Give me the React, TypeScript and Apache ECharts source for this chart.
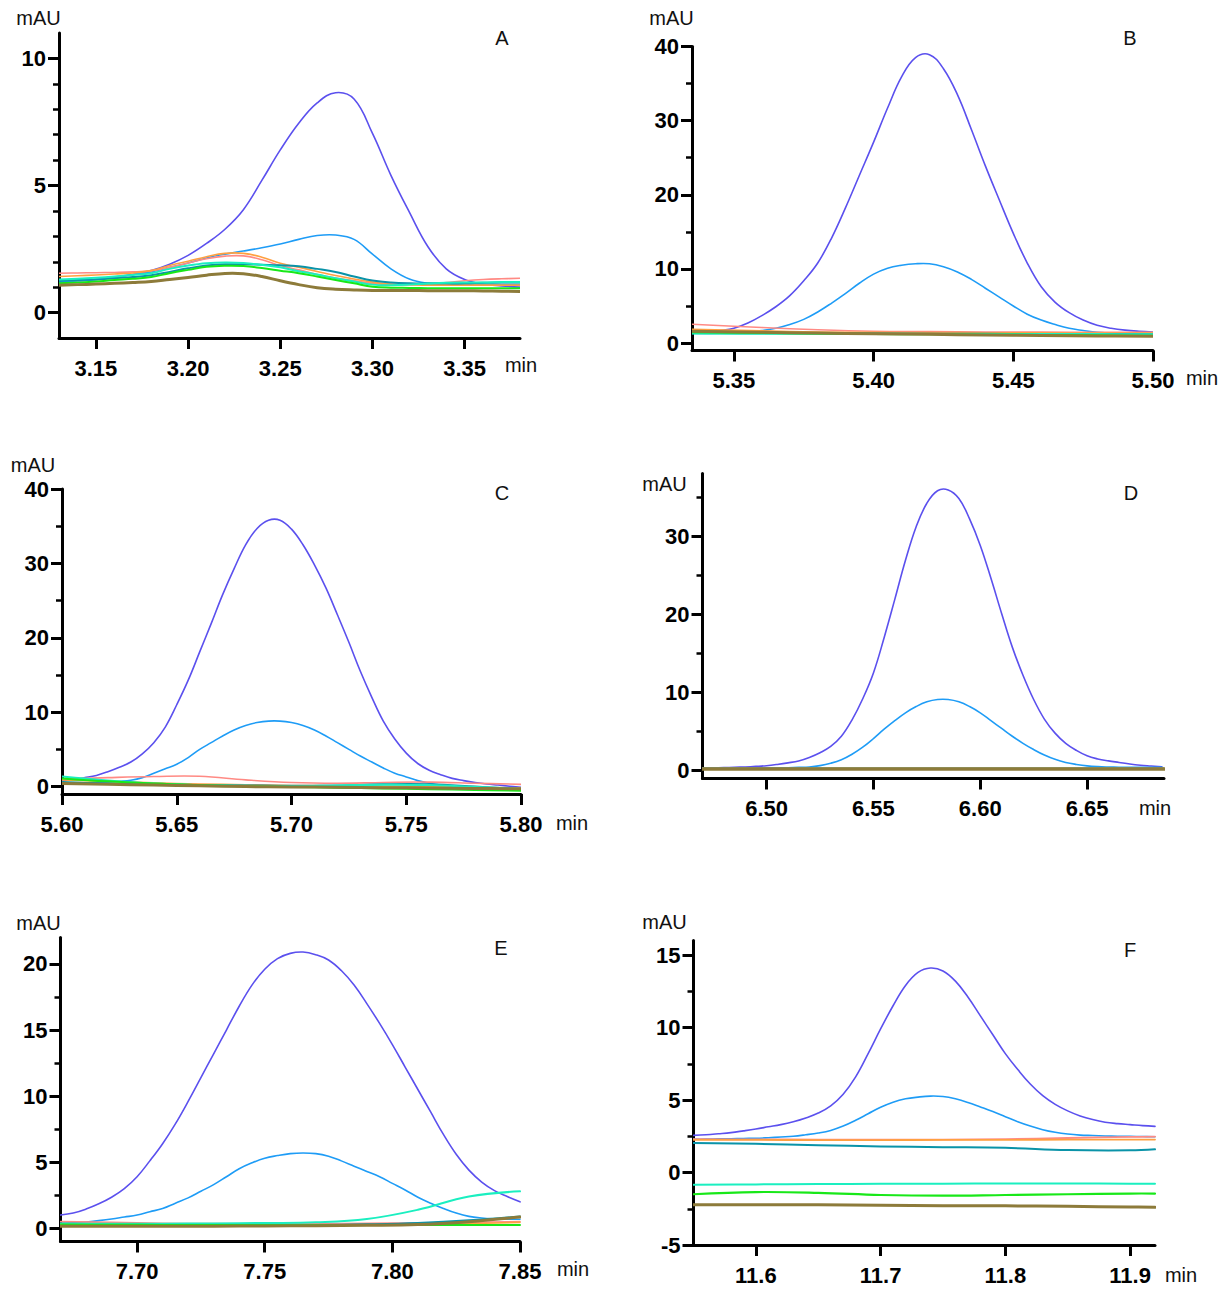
import React, { useEffect, useRef } from "react";
import * as echarts from "echarts";

const FONT = '"Liberation Sans", Arial, Helvetica, sans-serif';

const PURPLE = "#5b50ee";
const BLUE = "#1e9cf6";
const SALMON = "#ff8a84";
const ORANGE = "#ffa040";
const TEAL = "#0a93a8";
const AQUA = "#1aefc0";
const GREEN = "#18e818";
const OLIVE = "#8d7b3a";

// ---------- Panel A ----------
const tA = [3.13, 3.14, 3.15, 3.16, 3.17, 3.18, 3.19, 3.2, 3.21, 3.22, 3.23, 3.24, 3.25, 3.26, 3.27, 3.28, 3.29, 3.3, 3.31, 3.32, 3.33, 3.34, 3.35, 3.36, 3.37, 3.38];
const aPurple = [1.2, 1.25, 1.3, 1.38, 1.5, 1.65, 1.9, 2.25, 2.72, 3.28, 4.05, 5.2, 6.4, 7.45, 8.25, 8.65, 8.4, 7.05, 5.4, 3.95, 2.6, 1.72, 1.3, 1.12, 1.05, 1.0];
const aBlue = [1.2, 1.25, 1.3, 1.4, 1.5, 1.6, 1.78, 1.95, 2.15, 2.3, 2.42, 2.55, 2.7, 2.88, 3.03, 3.05, 2.88, 2.3, 1.72, 1.32, 1.15, 1.1, 1.1, 1.1, 1.1, 1.1];
const aSalmon = [1.55, 1.56, 1.57, 1.58, 1.6, 1.65, 1.78, 1.95, 2.12, 2.22, 2.23, 2.08, 1.85, 1.68, 1.5, 1.36, 1.25, 1.15, 1.1, 1.1, 1.12, 1.18, 1.25, 1.3, 1.33, 1.35];
const aOrange = [1.42, 1.45, 1.48, 1.52, 1.56, 1.65, 1.85, 2.02, 2.2, 2.33, 2.33, 2.18, 1.94, 1.78, 1.62, 1.46, 1.32, 1.2, 1.12, 1.1, 1.08, 1.08, 1.08, 1.08, 1.08, 1.08];
const aTeal = [1.25, 1.28, 1.3, 1.35, 1.4, 1.47, 1.6, 1.74, 1.85, 1.9, 1.9, 1.88, 1.86, 1.82, 1.72, 1.6, 1.42, 1.26, 1.18, 1.15, 1.15, 1.15, 1.15, 1.17, 1.18, 1.18];
const aAqua = [1.3, 1.33, 1.37, 1.42, 1.48, 1.55, 1.72, 1.85, 1.94, 1.97, 1.95, 1.88, 1.78, 1.63, 1.5, 1.35, 1.22, 1.1, 1.08, 1.1, 1.14, 1.17, 1.18, 1.18, 1.2, 1.2];
const aGreen = [1.15, 1.18, 1.22, 1.28, 1.33, 1.4, 1.55, 1.68, 1.8, 1.84, 1.83, 1.75, 1.65, 1.55, 1.42, 1.28, 1.15, 1.02, 0.98, 0.97, 0.96, 0.96, 0.96, 0.96, 0.96, 0.96];
const aOlive = [1.08, 1.1, 1.12, 1.15, 1.18, 1.22, 1.3, 1.38, 1.47, 1.54, 1.53, 1.42, 1.25, 1.1, 0.98, 0.92, 0.89, 0.87, 0.87, 0.87, 0.86, 0.86, 0.86, 0.85, 0.84, 0.83];
const aXTicks = [3.15, 3.2, 3.25, 3.3, 3.35];
const aYTicks = [0, 5, 10];
const aYMinor = [1, 2, 3, 4, 6, 7, 8, 9];

// ---------- Panel B ----------
const tBPeak = [5.335, 5.34, 5.345, 5.35, 5.355, 5.36, 5.365, 5.37, 5.375, 5.38, 5.385, 5.39, 5.395, 5.4, 5.405, 5.41, 5.415, 5.42, 5.425, 5.43, 5.435, 5.44, 5.445, 5.45, 5.455, 5.46, 5.465, 5.47, 5.475, 5.48, 5.485, 5.49, 5.495, 5.5];
const bPurple = [1.4, 1.5, 1.7, 2.0, 2.7, 3.7, 4.9, 6.4, 8.4, 10.8, 14.2, 18.3, 22.7, 27.1, 31.7, 35.9, 38.5, 38.9, 37.0, 33.5, 28.8, 23.9, 19.3, 14.8, 10.8, 7.6, 5.5, 4.1, 3.1, 2.4, 2.0, 1.75, 1.6, 1.5];
const bBlue = [1.3, 1.3, 1.32, 1.38, 1.5, 1.7, 2.0, 2.5, 3.2, 4.2, 5.4, 6.7, 8.1, 9.3, 10.1, 10.5, 10.7, 10.7, 10.3, 9.6, 8.6, 7.4, 6.2, 5.0, 3.9, 3.1, 2.5, 2.0, 1.7, 1.45, 1.35, 1.3, 1.3, 1.3];
const tBBase = [5.335, 5.36, 5.38, 5.4, 5.42, 5.44, 5.46, 5.48, 5.5];
const bSalmon = [2.55, 2.1, 1.8, 1.6, 1.55, 1.5, 1.48, 1.45, 1.45];
const bOrange = [1.85, 1.65, 1.5, 1.45, 1.42, 1.4, 1.38, 1.36, 1.35];
const bTeal = [1.35, 1.32, 1.3, 1.28, 1.27, 1.25, 1.23, 1.22, 1.2];
const bAqua = [1.28, 1.27, 1.26, 1.25, 1.24, 1.23, 1.22, 1.21, 1.2];
const bGreen = [1.45, 1.35, 1.28, 1.22, 1.18, 1.14, 1.1, 1.05, 1.0];
const bOlive = [1.6, 1.45, 1.35, 1.25, 1.18, 1.1, 1.02, 0.96, 0.92];
const bXTicks = [5.35, 5.4, 5.45, 5.5];
const bYTicks = [0, 10, 20, 30, 40];
const bYMinor = [5, 15, 25, 35];

// ---------- Panel C ----------
const tCPeak = [5.6, 5.605, 5.61, 5.615, 5.62, 5.625, 5.63, 5.635, 5.64, 5.645, 5.65, 5.655, 5.66, 5.665, 5.67, 5.675, 5.68, 5.685, 5.69, 5.695, 5.7, 5.705, 5.71, 5.715, 5.72, 5.725, 5.73, 5.735, 5.74, 5.745, 5.75, 5.755, 5.76, 5.765, 5.77, 5.775, 5.78, 5.785, 5.79, 5.795, 5.8];
const cPurple = [0.8, 0.95, 1.2, 1.5, 2.0, 2.6, 3.3, 4.4, 5.9, 8.0, 11.0, 14.3, 18.1, 21.9, 25.8, 29.3, 32.5, 34.7, 35.8, 35.8, 34.6, 32.5, 29.8, 26.7, 23.1, 19.4, 15.5, 12.0, 8.8, 6.4, 4.5, 3.1, 2.2, 1.6, 1.1, 0.8, 0.55, 0.35, 0.2, 0.05, -0.1];
const cBlue = [0.5, 0.5, 0.5, 0.55, 0.6, 0.7, 0.85, 1.2, 1.8, 2.4, 3.0, 3.9, 5.0, 5.9, 6.8, 7.6, 8.2, 8.6, 8.8, 8.8, 8.6, 8.2, 7.6, 6.8, 5.9, 5.0, 4.1, 3.3, 2.5, 1.8, 1.3, 0.8, 0.45, 0.2, 0.05, -0.05, -0.1, -0.15, -0.2, -0.25, -0.3];
const tCBase = [5.6, 5.62, 5.64, 5.66, 5.68, 5.7, 5.72, 5.74, 5.76, 5.78, 5.8];
const cSalmon = [1.0, 1.2, 1.35, 1.38, 0.9, 0.55, 0.45, 0.55, 0.6, 0.45, 0.3];
const cOrange = [0.9, 0.7, 0.5, 0.35, 0.25, 0.15, 0.1, 0.05, 0.0, -0.1, -0.2];
const cTeal = [0.6, 0.4, 0.3, 0.2, 0.15, 0.1, 0.15, 0.3, 0.3, 0.0, -0.35];
const cAqua = [1.35, 0.8, 0.4, 0.2, 0.1, 0.05, 0.15, 0.25, 0.2, -0.05, -0.3];
const cGreen = [1.1, 0.7, 0.4, 0.2, 0.05, -0.05, -0.15, -0.25, -0.35, -0.45, -0.55];
const cOlive = [0.4, 0.3, 0.2, 0.1, 0.0, -0.05, -0.1, -0.15, -0.2, -0.25, -0.3];
const cXTicks = [5.6, 5.65, 5.7, 5.75, 5.8];
const cYTicks = [0, 10, 20, 30, 40];
const cYMinor = [5, 15, 25, 35];

// ---------- Panel D ----------
const tDPeak = [6.47, 6.475, 6.48, 6.485, 6.49, 6.495, 6.5, 6.505, 6.51, 6.515, 6.52, 6.525, 6.53, 6.535, 6.54, 6.545, 6.55, 6.555, 6.56, 6.565, 6.57, 6.575, 6.58, 6.585, 6.59, 6.595, 6.6, 6.605, 6.61, 6.615, 6.62, 6.625, 6.63, 6.635, 6.64, 6.645, 6.65, 6.655, 6.66, 6.665, 6.67, 6.675, 6.68, 6.685];
const dPurple = [0.34, 0.36, 0.4, 0.43, 0.48, 0.55, 0.64, 0.8, 1.0, 1.25, 1.7, 2.3, 3.1, 4.4, 6.5, 9.2, 12.5, 17.0, 21.9, 26.9, 31.2, 34.2, 35.8, 35.9, 34.8, 32.2, 28.8, 24.6, 20.1, 15.8, 12.2, 9.1, 6.6, 4.8, 3.5, 2.6, 1.9, 1.5, 1.25, 1.05, 0.85, 0.7, 0.6, 0.5];
const dBlue = [0.3, 0.3, 0.3, 0.3, 0.3, 0.32, 0.33, 0.35, 0.38, 0.42, 0.48, 0.65, 0.95, 1.4, 2.1, 3.0, 4.1, 5.3, 6.4, 7.4, 8.2, 8.8, 9.1, 9.1, 8.8, 8.2, 7.4, 6.4, 5.4, 4.4, 3.5, 2.7, 2.0, 1.45, 1.05, 0.8, 0.62, 0.52, 0.47, 0.44, 0.43, 0.42, 0.42, 0.42];
const tDBase = [6.47, 6.52, 6.57, 6.62, 6.686];
const dSalmon = [0.32, 0.31, 0.3, 0.3, 0.3];
const dOrange = [0.28, 0.28, 0.28, 0.27, 0.27];
const dTeal = [0.25, 0.25, 0.24, 0.24, 0.24];
const dAqua = [0.26, 0.25, 0.25, 0.25, 0.25];
const dGreen = [0.22, 0.22, 0.22, 0.21, 0.21];
const dOlive = [0.2, 0.2, 0.2, 0.2, 0.2];
const dXTicks = [6.5, 6.55, 6.6, 6.65];
const dYTicks = [0, 10, 20, 30];
const dYMinor = [5, 15, 25, 35];

// ---------- Panel E ----------
const tEPeak = [7.67, 7.675, 7.68, 7.685, 7.69, 7.695, 7.7, 7.705, 7.71, 7.715, 7.72, 7.725, 7.73, 7.735, 7.74, 7.745, 7.75, 7.755, 7.76, 7.765, 7.77, 7.775, 7.78, 7.785, 7.79, 7.795, 7.8, 7.805, 7.81, 7.815, 7.82, 7.825, 7.83, 7.835, 7.84, 7.845, 7.85];
const ePurple = [1.0, 1.15, 1.45, 1.85, 2.35, 3.0, 3.9, 5.1, 6.4, 7.9, 9.6, 11.4, 13.2, 15.0, 16.8, 18.4, 19.6, 20.4, 20.8, 20.9, 20.7, 20.3, 19.5, 18.4, 17.0, 15.5, 13.9, 12.2, 10.5, 8.8, 7.1, 5.6, 4.4, 3.5, 2.85, 2.4, 2.0];
const eBlue = [0.38, 0.42, 0.48, 0.58, 0.7, 0.85, 1.0, 1.25, 1.5, 1.9, 2.3, 2.8, 3.3, 3.9, 4.5, 4.95, 5.3, 5.5, 5.65, 5.7, 5.65, 5.45, 5.1, 4.7, 4.3, 3.9, 3.4, 2.9, 2.35, 1.9, 1.5, 1.15, 0.9, 0.78, 0.72, 0.69, 0.68];
const tEBase = [7.67, 7.69, 7.71, 7.73, 7.75, 7.77, 7.79, 7.81, 7.83, 7.85];
const eSalmon = [0.5, 0.45, 0.38, 0.35, 0.35, 0.35, 0.38, 0.4, 0.45, 0.5];
const eOrange = [0.3, 0.28, 0.25, 0.25, 0.25, 0.25, 0.28, 0.3, 0.35, 0.45];
const eTeal = [0.35, 0.3, 0.25, 0.22, 0.22, 0.25, 0.3, 0.4, 0.6, 0.9];
const eAqua = [0.35, 0.35, 0.35, 0.37, 0.4, 0.45, 0.7, 1.4, 2.4, 2.8];
const eGreen = [0.28, 0.27, 0.25, 0.25, 0.25, 0.25, 0.25, 0.25, 0.25, 0.25];
const eOlive = [0.15, 0.15, 0.15, 0.15, 0.18, 0.2, 0.22, 0.28, 0.5, 0.85];
const eXTicks = [7.7, 7.75, 7.8, 7.85];
const eYTicks = [0, 5, 10, 15, 20];
const eYMinor = [2.5, 7.5, 12.5, 17.5];

// ---------- Panel F ----------
const tFPeak = [11.55, 11.56, 11.57, 11.58, 11.59, 11.6, 11.61, 11.62, 11.63, 11.64, 11.65, 11.66, 11.67, 11.68, 11.69, 11.7, 11.71, 11.72, 11.73, 11.74, 11.75, 11.76, 11.77, 11.78, 11.79, 11.8, 11.81, 11.82, 11.83, 11.84, 11.85, 11.86, 11.87, 11.88, 11.89, 11.9, 11.91, 11.92];
const fPurple = [2.56, 2.6, 2.67, 2.75, 2.87, 3.0, 3.15, 3.3, 3.5, 3.76, 4.1, 4.6, 5.4, 6.6, 8.2, 9.9, 11.5, 12.9, 13.8, 14.1, 13.9, 13.2, 12.1, 10.8, 9.5, 8.2, 7.1, 6.1, 5.3, 4.7, 4.25, 3.9, 3.65, 3.47, 3.37, 3.3, 3.23, 3.18];
const fBlue = [2.3, 2.3, 2.32, 2.33, 2.35, 2.36, 2.4, 2.45, 2.5, 2.6, 2.72, 2.9, 3.2, 3.6, 4.05, 4.5, 4.85, 5.08, 5.2, 5.27, 5.24, 5.08, 4.83, 4.52, 4.2, 3.85, 3.5, 3.2, 2.95, 2.77, 2.65, 2.58, 2.55, 2.52, 2.5, 2.49, 2.48, 2.47];
const tFBase = [11.55, 11.6, 11.65, 11.7, 11.75, 11.8, 11.85, 11.9, 11.92];
const fSalmon = [2.3, 2.28, 2.27, 2.26, 2.27, 2.3, 2.38, 2.45, 2.48];
const fOrange = [2.25, 2.25, 2.23, 2.23, 2.25, 2.25, 2.27, 2.27, 2.27];
const fTeal = [2.03, 1.98, 1.88, 1.8, 1.75, 1.7, 1.55, 1.53, 1.6];
const fAqua = [-0.85, -0.82, -0.8, -0.78, -0.77, -0.76, -0.76, -0.77, -0.77];
const fGreen = [-1.5, -1.35, -1.4, -1.55, -1.6, -1.55, -1.5, -1.45, -1.45];
const fOlive = [-2.22, -2.22, -2.23, -2.26, -2.3, -2.3, -2.33, -2.38, -2.4];
const fXTicks = [11.6, 11.7, 11.8, 11.9];
const fYTicks = [-5, 0, 5, 10, 15];
const fYMinor = [-2.5, 2.5, 7.5, 12.5];

type SeriesDef = [number[], number[], string, number];

const panels = [
  {
    letter: "A", grid: { left: 59, top: 33, width: 461, height: 305 },
    xMin: 3.13, xMax: 3.38, yMin: -1, yMax: 11, xTicks: aXTicks, yTicks: aYTicks, yMinor: aYMinor, dec: 2,
    mau: [38.5, 18], let: [502, 38], min: [521, 365],
    series: [
      [tA, aPurple, PURPLE, 1.6], [tA, aBlue, BLUE, 1.6], [tA, aSalmon, SALMON, 1.6], [tA, aOrange, ORANGE, 1.6],
      [tA, aTeal, TEAL, 2], [tA, aAqua, AQUA, 2], [tA, aGreen, GREEN, 2], [tA, aOlive, OLIVE, 3],
    ] as SeriesDef[],
  },
  {
    letter: "B", grid: { left: 692, top: 46.5, width: 461, height: 304 },
    xMin: 5.335, xMax: 5.5, yMin: -1, yMax: 40, xTicks: bXTicks, yTicks: bYTicks, yMinor: bYMinor, dec: 2,
    mau: [671.5, 18], let: [1130, 38], min: [1202, 378],
    series: [
      [tBPeak, bPurple, PURPLE, 1.6], [tBPeak, bBlue, BLUE, 1.6], [tBBase, bSalmon, SALMON, 1.6], [tBBase, bOrange, ORANGE, 1.6],
      [tBBase, bTeal, TEAL, 2], [tBBase, bAqua, AQUA, 2], [tBBase, bGreen, GREEN, 2], [tBBase, bOlive, OLIVE, 3],
    ] as SeriesDef[],
  },
  {
    letter: "C", grid: { left: 62, top: 489, width: 459, height: 305 },
    xMin: 5.6, xMax: 5.8, yMin: -1, yMax: 40, xTicks: cXTicks, yTicks: cYTicks, yMinor: cYMinor, dec: 2,
    mau: [33, 465], let: [502, 493], min: [572, 823],
    series: [
      [tCPeak, cPurple, PURPLE, 1.6], [tCPeak, cBlue, BLUE, 1.6], [tCBase, cSalmon, SALMON, 1.6], [tCBase, cOrange, ORANGE, 1.6],
      [tCBase, cTeal, TEAL, 2], [tCBase, cAqua, AQUA, 2], [tCBase, cGreen, GREEN, 2], [tCBase, cOlive, OLIVE, 3],
    ] as SeriesDef[],
  },
  {
    letter: "D", grid: { left: 702.5, top: 473.5, width: 461.5, height: 305 },
    xMin: 6.47, xMax: 6.686, yMin: -1, yMax: 38, xTicks: dXTicks, yTicks: dYTicks, yMinor: dYMinor, dec: 2,
    mau: [664.5, 484], let: [1131, 493], min: [1155, 808],
    series: [
      [tDPeak, dPurple, PURPLE, 1.6], [tDPeak, dBlue, BLUE, 1.6], [tDBase, dSalmon, SALMON, 1.6], [tDBase, dOrange, ORANGE, 1.6],
      [tDBase, dTeal, TEAL, 2], [tDBase, dAqua, AQUA, 2], [tDBase, dGreen, GREEN, 2], [tDBase, dOlive, OLIVE, 3.5],
    ] as SeriesDef[],
  },
  {
    letter: "E", grid: { left: 60.5, top: 937.5, width: 459.5, height: 304 },
    xMin: 7.67, xMax: 7.85, yMin: -1, yMax: 22, xTicks: eXTicks, yTicks: eYTicks, yMinor: eYMinor, dec: 2,
    mau: [38.5, 923], let: [501, 948], min: [573, 1269],
    series: [
      [tEPeak, ePurple, PURPLE, 1.6], [tEPeak, eBlue, BLUE, 1.6], [tEBase, eSalmon, SALMON, 1.6], [tEBase, eOrange, ORANGE, 1.6],
      [tEBase, eTeal, TEAL, 2], [tEBase, eAqua, AQUA, 2], [tEBase, eGreen, GREEN, 2], [tEBase, eOlive, OLIVE, 3],
    ] as SeriesDef[],
  },
  {
    letter: "F", grid: { left: 693.5, top: 940.5, width: 461.5, height: 304.5 },
    xMin: 11.55, xMax: 11.92, yMin: -5, yMax: 16, xTicks: fXTicks, yTicks: fYTicks, yMinor: fYMinor, dec: 1,
    mau: [664.5, 922], let: [1130, 950], min: [1181, 1275],
    series: [
      [tFPeak, fPurple, PURPLE, 1.6], [tFPeak, fBlue, BLUE, 1.6], [tFBase, fSalmon, SALMON, 1.8], [tFBase, fOrange, ORANGE, 1.8],
      [tFBase, fTeal, TEAL, 2], [tFBase, fAqua, AQUA, 2], [tFBase, fGreen, GREEN, 2.2], [tFBase, fOlive, OLIVE, 3],
    ] as SeriesDef[],
  },
];

function buildOption() {
  const grid: any[] = [];
  const xAxis: any[] = [];
  const yAxis: any[] = [];
  const series: any[] = [];
  const graphic: any[] = [];

  panels.forEach((p, i) => {
    grid.push({ ...p.grid, containLabel: false, outerBoundsMode: "none" });
    xAxis.push({
      type: "value", gridIndex: i, min: p.xMin, max: p.xMax,
      axisLine: { show: true, onZero: false, lineStyle: { color: "#000", width: 3 } },
      axisTick: { show: true, customValues: p.xTicks, length: 11, lineStyle: { color: "#000", width: 3 } },
      axisLabel: {
        show: true, customValues: p.xTicks, margin: 19, color: "#000", fontSize: 22, fontWeight: "bold", fontFamily: FONT,
        formatter: (v: number) => v.toFixed(p.dec),
      },
      splitLine: { show: false },
    });
    yAxis.push({
      type: "value", gridIndex: i, min: p.yMin, max: p.yMax, position: "left",
      axisLine: { show: true, onZero: false, lineStyle: { color: "#000", width: 3 } },
      axisTick: { show: true, customValues: p.yTicks, length: 11, lineStyle: { color: "#000", width: 3 } },
      axisLabel: {
        show: true, customValues: p.yTicks, margin: 13, color: "#000", fontSize: 22, fontWeight: "bold", fontFamily: FONT,
        formatter: (v: number) => String(v),
      },
      splitLine: { show: false },
    });
    yAxis.push({
      type: "value", gridIndex: i, min: p.yMin, max: p.yMax, position: "left",
      axisLine: { show: false, onZero: false },
      axisTick: { show: true, customValues: p.yMinor, length: 6, lineStyle: { color: "#000", width: 2.5 } },
      axisLabel: { show: false },
      splitLine: { show: false },
    });
    p.series.forEach(([t, v, color, w], k) => {
      series.push({
        type: "custom", name: `${p.letter}-${k}`, coordinateSystem: "cartesian2d",
        xAxisIndex: i, yAxisIndex: i * 2,
        data: t.map((x, j) => [x, v[j]]),
        encode: { x: 0, y: 1 },
        silent: true, clip: true,
        renderItem: (params: any, api: any) => {
          if (params.dataIndex !== 0) return null;
          const pts = t.map((x, j) => api.coord([x, v[j]]));
          return {
            type: "polyline",
            shape: { points: pts, smooth: 0.4 },
            style: { stroke: color, lineWidth: w, fill: null, lineJoin: "round", lineCap: "round" },
            silent: true,
          };
        },
      });
    });
    const txt = (text: string, pos: number[], size: number) => ({
      type: "text", x: pos[0], y: pos[1], silent: true,
      style: { text, fontSize: size, fontFamily: FONT, fill: "#111", align: "center", verticalAlign: "middle" },
    });
    graphic.push(txt("mAU", p.mau, 20));
    graphic.push(txt(p.letter, p.let, 20));
    graphic.push(txt("min", p.min, 20));
  });

  return { animation: false, backgroundColor: "#fff", grid, xAxis, yAxis, series, graphic };
}

export default function App() {
  const ref = useRef<HTMLDivElement>(null);
  useEffect(() => {
    document.body.style.margin = "0";
    if (!ref.current) return;
    const chart = echarts.init(ref.current, undefined, { renderer: "svg" });
    chart.setOption(buildOption() as any);
    return () => chart.dispose();
  }, []);
  return <div ref={ref} style={{ width: 1224, height: 1293, background: "#fff" }} />;
}
